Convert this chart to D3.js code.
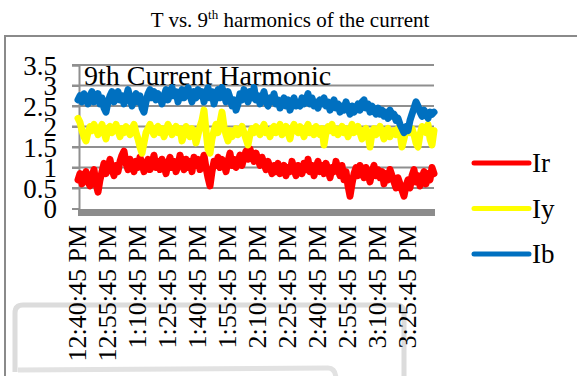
<!DOCTYPE html>
<html>
<head>
<meta charset="utf-8">
<script src="https://cdn.jsdelivr.net/npm/d3@7/dist/d3.min.js"></script>
<style>
  html, body { margin: 0; padding: 0; background: #fff; }
  svg { display: block; font-family: "Liberation Serif", "Times New Roman", serif; }
</style>
</head>
<body>
<svg id="chart" width="577" height="376"></svg>
<script>
// One sample per minute starting at 12:40:45 PM
const startTime = "12:40:45";
const stepMinutes = 1;

const seriesNames = ["Ir", "Iy", "Ib"];
const seriesColors = ["#ff0000", "#ffff00", "#0070c0"];

const Ir = [
  0.7,0.85,0.6,0.75,0.9,0.65,0.55,0.8,0.95,0.6,
  0.4,0.7,0.9,1.1,0.85,1.0,1.2,0.95,0.8,1.05,
  0.9,1.15,1.3,1.4,1.1,0.95,1.2,1.05,0.9,1.15,
  1.0,1.25,1.1,0.9,1.05,1.2,0.95,1.1,1.3,1.0,
  1.15,0.95,1.2,1.05,0.85,1.1,1.25,1.0,1.15,0.9,
  1.05,1.3,1.1,0.95,1.2,1.0,1.15,0.9,1.25,1.05,
  1.2,0.95,1.1,1.3,1.0,0.75,0.55,0.9,1.15,1.05,
  1.25,1.0,1.2,1.1,0.9,1.15,1.35,1.05,1.2,1.0,
  1.15,1.3,1.05,1.25,1.4,1.2,1.45,1.3,1.15,1.35,
  1.2,1.05,1.25,1.1,0.95,1.15,1.0,0.85,1.05,0.9,
  1.1,0.85,0.95,1.05,0.8,1.0,0.9,1.15,0.95,0.8,
  1.05,1.0,0.85,1.1,0.95,1.2,0.9,1.05,0.8,1.0,
  1.15,0.9,1.05,0.85,1.1,0.95,0.75,1.0,0.9,1.15,
  0.95,0.8,1.05,0.7,0.9,0.55,0.3,0.6,0.85,1.0,
  0.8,1.05,0.9,0.75,1.0,0.85,0.65,0.9,1.05,0.8,
  0.95,0.75,0.9,0.6,0.85,0.7,0.95,0.8,0.65,0.5,
  0.75,0.6,0.45,0.3,0.55,0.7,0.5,0.8,0.95,0.65,
  0.8,0.55,0.75,0.9,0.6,0.85,0.7,1.0,0.85];

const Iy = [
  2.2,2.1,1.9,1.75,1.65,1.85,2.0,1.9,2.05,1.95,
  1.8,1.95,2.05,1.85,1.7,1.95,2.0,1.85,1.95,2.05,
  1.9,1.75,1.95,1.85,2.0,1.9,1.8,1.95,2.05,1.85,
  1.7,1.5,1.35,1.6,1.85,1.95,2.05,1.9,1.8,1.95,
  2.0,1.85,1.95,1.75,1.9,2.05,1.95,1.8,1.9,2.0,
  1.85,1.95,1.65,1.8,2.0,1.9,1.75,1.95,1.85,1.6,
  1.8,2.0,2.15,2.4,1.9,1.45,1.35,1.7,1.9,2.05,
  1.85,2.1,2.35,2.0,1.8,1.65,1.9,1.75,1.85,1.95,
  1.8,1.9,2.0,1.85,1.7,1.55,1.8,1.95,1.85,2.0,
  1.9,1.8,1.95,2.05,1.85,1.9,1.75,1.95,2.0,1.85,
  1.95,2.05,1.8,1.9,2.0,1.85,1.7,1.95,2.05,1.9,
  1.85,2.0,1.9,1.75,1.95,2.05,1.85,1.95,1.8,2.0,
  1.9,1.8,1.95,1.55,1.85,2.0,1.9,2.05,1.85,1.95,
  1.8,1.9,2.0,1.85,1.95,1.75,1.9,2.05,1.85,1.9,
  2.0,1.85,1.7,1.9,1.95,1.8,1.5,1.85,1.95,1.8,
  1.9,2.0,1.85,1.7,1.9,1.95,1.75,1.85,1.9,1.8,
  1.95,1.85,1.5,1.7,1.9,2.0,1.85,1.95,1.8,1.6,
  1.5,1.8,2.0,1.9,1.85,2.05,1.7,1.55,1.9];

const Ib = [
  2.65,2.75,2.6,2.8,2.7,2.55,2.75,2.85,2.6,2.7,
  2.8,2.55,2.7,2.45,2.35,2.6,2.75,2.85,2.6,2.7,
  2.85,2.65,2.75,2.55,2.7,2.9,2.7,2.5,2.65,2.8,
  2.6,2.75,2.45,2.35,2.6,2.8,2.9,2.7,2.85,2.65,
  2.8,2.7,2.55,2.75,2.9,2.65,2.8,2.95,2.75,2.85,
  2.6,2.8,2.9,2.7,2.85,2.95,2.75,2.6,2.85,2.7,
  2.9,2.75,2.85,2.6,2.8,2.95,2.7,2.85,2.55,2.75,
  2.9,2.7,2.95,2.8,2.6,2.85,2.7,2.5,2.65,2.4,
  2.55,2.8,2.65,2.9,2.75,2.6,2.85,2.7,2.95,2.65,
  2.75,2.55,2.7,2.85,2.6,2.5,2.7,2.6,2.8,2.55,
  2.65,2.45,2.6,2.7,2.5,2.65,2.4,2.55,2.7,2.5,
  2.6,2.5,2.7,2.55,2.65,2.8,2.55,2.7,2.5,2.6,
  2.45,2.65,2.55,2.7,2.5,2.6,2.4,2.55,2.65,2.45,
  2.55,2.35,2.5,2.4,2.6,2.45,2.3,2.5,2.35,2.45,
  2.55,2.4,2.6,2.65,2.45,2.55,2.35,2.5,2.4,2.3,
  2.45,2.3,2.4,2.25,2.35,2.2,2.4,2.25,2.3,2.15,
  2.2,2.05,1.95,1.85,2.0,1.9,2.15,2.3,2.45,2.6,
  2.5,2.35,2.25,2.4,2.3,2.2,2.35,2.3,2.35];

const yTicks = [0, 0.5, 1, 1.5, 2, 2.5, 3, 3.5];
const xTickLabels = ["12:40:45 PM","12:55:45 PM","1:10:45 PM","1:25:45 PM","1:40:45 PM","1:55:45 PM",
  "2:10:45 PM","2:25:45 PM","2:40:45 PM","2:55:45 PM","3:10:45 PM","3:25:45 PM"];
const tickEveryMinutes = 15;

const svg = d3.select("#chart");

// time base
const parse = d3.timeParse("%H:%M:%S");
const t0 = parse(startTime);
const timeAt = i => d3.timeMinute.offset(t0, i * stepMinutes);
const n = Ir.length;

const x = d3.scaleTime().domain([t0, timeAt(n - 1)]).range([78, 434]);
const y = d3.scaleLinear().domain([0, 3.5]).range([208.5, 65]);

// outer frame
svg.append("rect").attr("x", 5).attr("y", 36).attr("width", 600).attr("height", 400)
  .attr("fill", "#fff").attr("stroke", "#8a8a8a").attr("stroke-width", 2);

// faint frame shapes near the bottom
svg.append("path").attr("d", "M15,372 L15,313 Q15,305 23,305 L396,305 Q404,305 404,313 L404,380")
  .attr("fill", "none").attr("stroke", "#dcdcdc").attr("stroke-width", 5);
svg.append("path").attr("d", "M18,370 L328,368 Q336,368 336,380")
  .attr("fill", "none").attr("stroke", "#e2e2e2").attr("stroke-width", 5);

// title
const title = svg.append("text").attr("x", 290).attr("y", 27).attr("text-anchor", "middle")
  .attr("font-size", 21).attr("fill", "#000");
title.append("tspan").text("T vs. 9");
title.append("tspan").attr("dy", -8).attr("font-size", 13).text("th");
title.append("tspan").attr("dy", 8).text(" harmonics of the current");

// gridlines
svg.append("g").selectAll("line").data(yTicks.filter(d => d > 0)).join("line")
  .attr("x1", 72).attr("x2", 434).attr("y1", d => y(d)).attr("y2", d => y(d))
  .attr("stroke", "#8f8f8f").attr("stroke-width", 2);

// y axis
const yAxis = svg.append("g").attr("transform", "translate(79,0)")
  .call(d3.axisLeft(y).tickValues(yTicks).tickSize(7).tickFormat(d3.format("")));
yAxis.select(".domain").attr("stroke", "#8f8f8f").attr("stroke-width", 2);
yAxis.selectAll(".tick line").attr("stroke", "#8f8f8f").attr("stroke-width", 2);
yAxis.selectAll(".tick text").attr("font-size", 27).attr("font-family", "Liberation Serif")
  .attr("fill", "#000").attr("x", -22).attr("dy", "0.34em");

// floor
svg.append("rect").attr("x", 78).attr("y", 209).attr("width", 357).attr("height", 7).attr("fill", "#8c8c8c");

// x labels
const xTicks = xTickLabels.map((_, i) => d3.timeMinute.offset(t0, i * tickEveryMinutes));
svg.append("g").selectAll("text").data(xTicks).join("text")
  .attr("transform", d => `translate(${x(d) + 8},225) rotate(-90)`)
  .attr("text-anchor", "end").attr("font-size", 26).attr("fill", "#000")
  .text((d, i) => xTickLabels[i]);

// chart subtitle
svg.append("text").attr("x", 84).attr("y", 85).attr("font-size", 28).attr("fill", "#000")
  .text("9th Current Harmonic");

// series
const line = d3.line().x((d, i) => x(timeAt(i))).y(d => y(d));
const allSeries = [Ir, Iy, Ib];
svg.append("g").selectAll("path").data(allSeries).join("path")
  .attr("d", d => line(d)).attr("fill", "none")
  .attr("stroke", (d, i) => seriesColors[i]).attr("stroke-width", 7)
  .attr("stroke-linejoin", "round").attr("stroke-linecap", "round");

// legend
const legend = svg.append("g").selectAll("g").data(seriesNames).join("g")
  .attr("transform", (d, i) => `translate(0,${163 + i * 45.5})`);
legend.append("line").attr("x1", 474).attr("x2", 529).attr("y1", 0).attr("y2", 0)
  .attr("stroke", (d, i) => seriesColors[i]).attr("stroke-width", 5).attr("stroke-linecap", "round");
legend.append("text").attr("x", 532).attr("y", 9).attr("font-size", 27).attr("fill", "#000").text(d => d);
</script>
</body>
</html>
